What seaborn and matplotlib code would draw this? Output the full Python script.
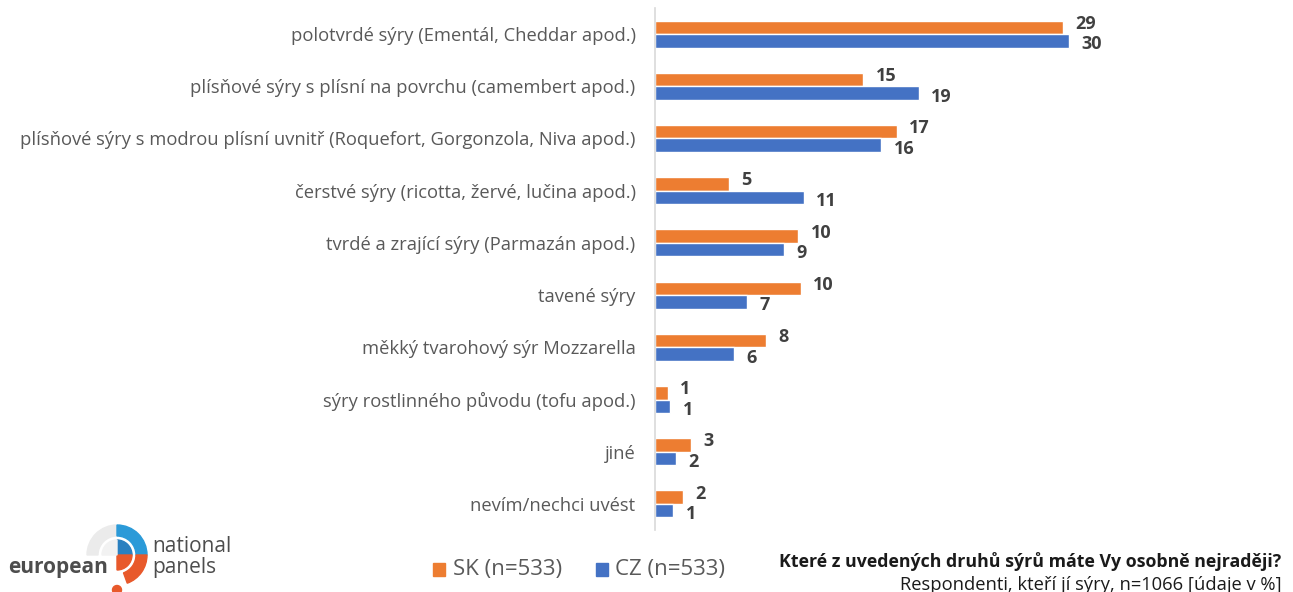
import matplotlib
matplotlib.use("Agg")
import matplotlib.pyplot as plt
from matplotlib.patches import Wedge, Circle
import pandas as pd
import seaborn as sns

categories = [
    "polotvrdé sýry (Ementál, Cheddar apod.)",
    "plísňové sýry s plísní na povrchu (camembert apod.)",
    "plísňové sýry s modrou plísní uvnitř (Roquefort, Gorgonzola, Niva apod.)",
    "čerstvé sýry (ricotta, žervé, lučina apod.)",
    "tvrdé a zrající sýry (Parmazán apod.)",
    "tavené sýry",
    "měkký tvarohový sýr Mozzarella",
    "sýry rostlinného původu (tofu apod.)",
    "jiné",
    "nevím/nechci uvést",
]
sk_values = [29.4, 15.0, 17.4, 5.3, 10.3, 10.5, 8.0, 0.9, 2.6, 2.0]
cz_values = [29.8, 19.0, 16.3, 10.7, 9.3, 6.6, 5.7, 1.1, 1.5, 1.3]
sk_labels = [29, 15, 17, 5, 10, 10, 8, 1, 3, 2]
cz_labels = [30, 19, 16, 11, 9, 7, 6, 1, 2, 1]
series = ["SK (n=533)", "CZ (n=533)"]
colors = ["#ED7D31", "#4472C4"]

df = pd.DataFrame({
    "kategorie": categories * 2,
    "hodnota": sk_values + cz_values,
    "zeme": [series[0]] * len(categories) + [series[1]] * len(categories),
})

sns.set_style("white")
plt.rcParams["font.family"] = ["Open Sans", "DejaVu Sans"]

fig = plt.figure(figsize=(12.93, 5.92), dpi=100)
ax = fig.add_axes([0.5066, 0.1047, 0.48, 0.8818])

sns.barplot(data=df, y="kategorie", x="hodnota", hue="zeme", hue_order=series,
            palette=colors, orient="h", width=0.52, gap=0, ax=ax,
            saturation=1, legend=False)

ax.set_xlim(0, 44.7)
ax.set_ylim(len(categories) - 0.5, -0.5)
ax.set_xlabel("")
ax.set_ylabel("")
ax.set_xticks([])
for s in ["top", "right", "bottom"]:
    ax.spines[s].set_visible(False)
ax.spines["left"].set_color("#d9d9d9")
ax.spines["left"].set_linewidth(1.2)
ax.tick_params(axis="y", length=0, pad=14, labelsize=13.2, labelcolor="#595959")

# popisky hodnot (SK trochu nahoru, CZ dolu)
for cont, labels, dy in zip(ax.containers, [sk_labels, cz_labels], [2.5, -2.5]):
    anns = ax.bar_label(cont, labels=[str(v) for v in labels], padding=9,
                        fontsize=13, fontweight="bold", color="#404040")
    for a in anns:
        a.xyann = (9, dy)

# legenda
for i, (name, col) in enumerate(zip(series, colors)):
    x0 = 0.335 + i * 0.126
    fig.patches.append(plt.Rectangle((x0, 0.027), 0.0095, 0.022, transform=fig.transFigure,
                                     color=col, figure=fig))
    fig.text(x0 + 0.015, 0.038, name, fontsize=16, color="#595959", va="center")

fig.text(0.991, 0.052, "Které z uvedených druhů sýrů máte Vy osobně nejraději?",
         ha="right", va="center", fontsize=12.8, fontweight="bold", color="#1a1a1a")
fig.text(0.991, 0.012, "Respondenti, kteří jí sýry, n=1066 [údaje v %]",
         ha="right", va="center", fontsize=13.2, color="#1a1a1a")

# logo
lax = fig.add_axes([0, 0, 0.2, 0.12])
lax.set_xlim(0, 258.6)
lax.set_ylim(0, 71.04)
lax.axis("off")
cx, cy = 117, 592 - 555
lax.add_patch(Wedge((cx, cy), 30, 90, 180, width=11, color="#ebebeb"))
lax.add_patch(Wedge((cx, cy), 30, 0, 90, width=11, color="#2b9ad8"))
lax.add_patch(Wedge((cx, cy), 30, 290, 360, width=11, color="#e8592b"))
lax.add_patch(Wedge((cx, cy), 15, 0, 90, color="#2a80c0"))
lax.add_patch(Wedge((cx, cy), 15, 270, 360, color="#e8592b"))
lax.add_patch(Wedge((cx, cy), 15, 90, 180, color="#f2f2f2"))
lax.add_patch(Circle((cx, 2), 4.5, color="#e8592b"))
lax.text(8, 592 - 568, "european", fontsize=15, fontweight="bold", color="#4d4d4d",
         va="center")
lax.text(152, 592 - 547, "national", fontsize=15, color="#4d4d4d", va="center")
lax.text(152, 592 - 568, "panels", fontsize=15, color="#4d4d4d", va="center")

fig.savefig("out.png", dpi=100, facecolor="white")
